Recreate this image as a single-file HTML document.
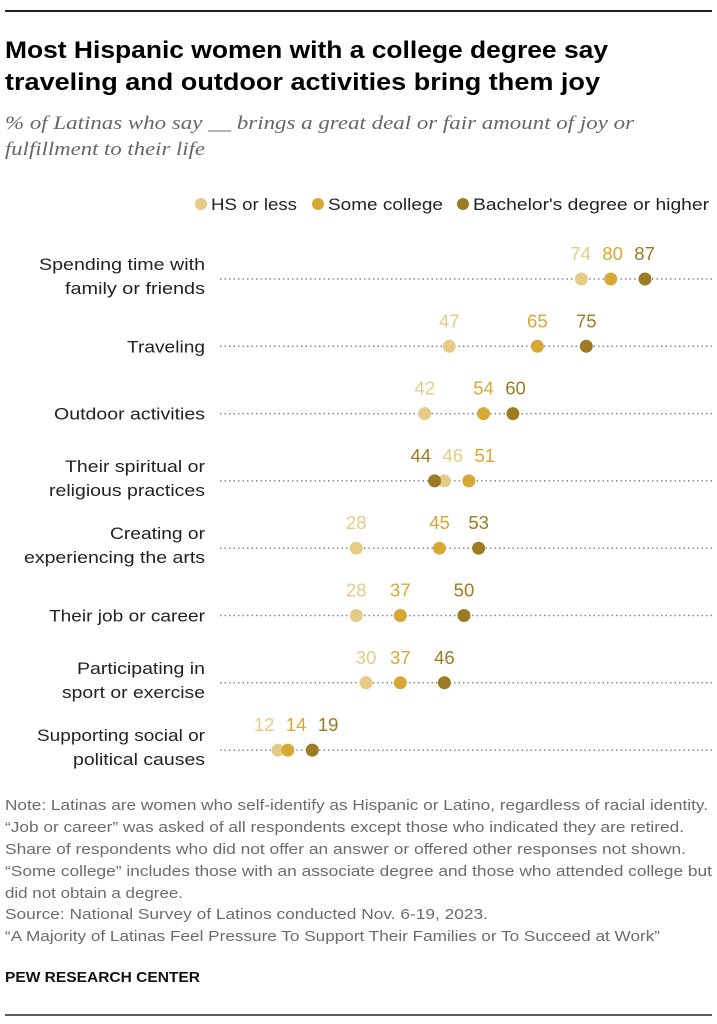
<!DOCTYPE html>
<html><head><meta charset="utf-8"><style>
body{margin:0;background:#fff}
svg{display:block;font-family:"Liberation Sans",Arial,sans-serif}
</style></head><body>
<svg id="chart" width="717" height="1024" viewBox="0 0 717 1024">
<line x1="5" y1="11" x2="712" y2="11" stroke="#222" stroke-width="2"/>
<g font-size="24.5" font-weight="bold" fill="#000">
<text x="5" y="58" textLength="603" lengthAdjust="spacingAndGlyphs">Most Hispanic women with a college degree say</text>
<text x="5" y="90" textLength="595" lengthAdjust="spacingAndGlyphs">traveling and outdoor activities bring them joy</text>
</g>
<g font-family="'Liberation Serif',serif" font-style="italic" font-size="19" fill="#666">
<text x="5" y="129" textLength="629" lengthAdjust="spacingAndGlyphs">% of Latinas who say __ brings a great deal or fair amount of joy or</text>
<text x="5" y="155" textLength="200" lengthAdjust="spacingAndGlyphs">fulfillment to their life</text>
</g>
<g id="legend" font-size="17" fill="#222"></g>
<g id="rows"></g>
<g font-size="15" fill="#6b6b6b">
<text x="5" y="810" textLength="703" lengthAdjust="spacingAndGlyphs">Note: Latinas are women who self-identify as Hispanic or Latino, regardless of racial identity.</text>
<text x="5" y="832" textLength="679" lengthAdjust="spacingAndGlyphs">“Job or career” was asked of all respondents except those who indicated they are retired.</text>
<text x="5" y="854" textLength="681" lengthAdjust="spacingAndGlyphs">Share of respondents who did not offer an answer or offered other responses not shown.</text>
<text x="5" y="876" textLength="707" lengthAdjust="spacingAndGlyphs">“Some college” includes those with an associate degree and those who attended college but</text>
<text x="5" y="898" textLength="178" lengthAdjust="spacingAndGlyphs">did not obtain a degree.</text>
<text x="5" y="919" textLength="483" lengthAdjust="spacingAndGlyphs">Source: National Survey of Latinos conducted Nov. 6-19, 2023.</text>
<text x="5" y="941" textLength="655" lengthAdjust="spacingAndGlyphs">“A Majority of Latinas Feel Pressure To Support Their Families or To Succeed at Work”</text>
</g>
<text x="5" y="982" font-size="15" font-weight="bold" fill="#111" textLength="195" lengthAdjust="spacingAndGlyphs">PEW RESEARCH CENTER</text>
<line x1="5" y1="1015" x2="712" y2="1015" stroke="#222" stroke-width="1.5"/>
</svg>
<script>
const categories=[["Spending time with","family or friends"],["Traveling"],["Outdoor activities"],["Their spiritual or","religious practices"],["Creating or","experiencing the arts"],["Their job or career"],["Participating in","sport or exercise"],["Supporting social or","political causes"]];
const seriesNames=["HS or less","Some college","Bachelor's degree or higher"];
const hsValues=[74,47,42,46,28,28,30,12];
const someCollegeValues=[80,65,54,51,45,37,37,14];
const bachelorValues=[87,75,60,44,53,50,46,19];
const colors=["#E5CB86","#D7A834","#9C7B22"];
const labelLengths={"Spending time with":166,"family or friends":140,"Traveling":78,"Outdoor activities":151,"Their spiritual or":140,"religious practices":156,"Creating or":95,"experiencing the arts":181,"Their job or career":156,"Participating in":128,"sport or exercise":143,"Supporting social or":168,"political causes":132};
const NS="http://www.w3.org/2000/svg";
const x=v=>219.3+v*4.893;
const rowY=i=>279+i*67.3;
function mk(tag,attrs,parent){const e=document.createElementNS(NS,tag);for(const k in attrs)e.setAttribute(k,attrs[k]);parent.appendChild(e);return e;}
const legend=document.getElementById('legend');
const lx=[201,318,463];
const lw=[86,115,236];
seriesNames.forEach((n,i)=>{
 const c=mk('circle',{cx:lx[i],cy:204,r:6,fill:colors[i]},legend);
 
 
 const t=mk('text',{x:lx[i]+10,y:210,textLength:lw[i],lengthAdjust:'spacingAndGlyphs'},legend);t.textContent=n;
 
 
});
const rows=document.getElementById('rows');
const all=[hsValues,someCollegeValues,bachelorValues];
categories.forEach((lab,i)=>{
 const y=rowY(i);
 const g=mk('g',{},rows);
 
 
 const ln=mk('line',{x1:220,y1:y,x2:712,y2:y,stroke:'#888','stroke-width':1.5,'stroke-dasharray':'1.5 3'},g);
 
 
 lab.forEach((s,k)=>{
  const yy=lab.length===2?y-9+k*24:y+6;
  const L=labelLengths[s];
  const t=mk('text',{x:205-L,y:yy,'font-size':17,fill:'#222',textLength:L,lengthAdjust:'spacingAndGlyphs'},g);
  t.textContent=s;
  
  
 });
 const vals=all.map(a=>a[i]);
 const idx=[0,1,2].sort((a,b)=>vals[a]-vals[b]);
 const px=idx.map(k=>x(vals[k]));
 const lp=px.slice();
 for(let k=1;k<3;k++)if(lp[k]-lp[k-1]<32)lp[k]=lp[k-1]+32;
 const shift=(px.reduce((a,b)=>a+b)-lp.reduce((a,b)=>a+b))/3;
 if(Math.abs(shift)>1)for(let k=0;k<3;k++)lp[k]+=shift*0.8;
 [0,1,2].forEach(s=>{
  const c=mk('circle',{cx:x(vals[s]),cy:y,r:6.5,fill:colors[s]},g);
  
  
 });
 idx.forEach((s,k)=>{
  const t=mk('text',{x:lp[k],y:y-19,'text-anchor':'middle','font-size':18.5,fill:colors[s]},g);
  t.textContent=vals[s];
  
  
 });
});
</script>
</body></html>
